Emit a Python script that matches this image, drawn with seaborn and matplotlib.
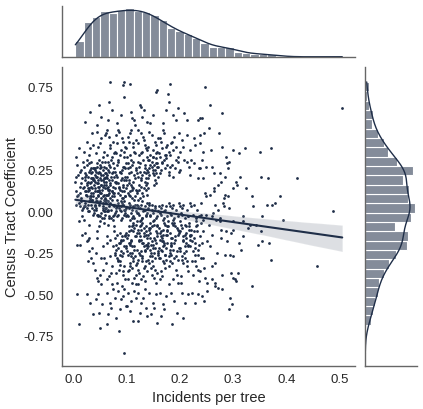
import matplotlib
matplotlib.use("Agg")
import matplotlib.pyplot as plt
import pandas as pd
import seaborn as sns

# tract points, grouped by incidents-per-tree band
# each pair: (incidents per tree x 1000, census tract coefficient x 100)
band_00 = [
    (4, 18), (6, 12), (9, 22), (12, 15), (15, 8), (17, 20), (5, 4), (8, 9), (11, 5), (14, 25),
    (18, 14), (7, 28), (10, -6), (13, 3), (16, -14), (19, 2), (6, 33), (9, 10), (12, -20), (15, 17),
    (11, -68), (8, -50), (14, 6), (17, -3), (5, 21), (10, 38), (13, 11), (16, 1), (18, 30), (7, -20),
    (12, 24),
]
band_02 = [
    (21, 15), (24, 22), (27, 18), (31, 9), (33, 26), (36, 14), (38, 20), (22, 12), (25, 28), (29, 6),
    (31, 17), (34, 23), (37, 11), (23, 19), (26, 31), (29, 13), (32, 8), (35, 24), (39, 16), (20, 27),
    (24, 10), (28, 21), (30, 29), (33, 15), (36, 7), (39, 19), (22, 23), (28, 12), (34, 30), (37, 19),
    (25, 16), (31, 25), (21, 36), (26, 42), (32, 38), (35, 47), (29, 34), (38, 40), (23, 54), (33, 11),
    (36, 2), (24, 12), (27, 4), (30, 0), (39, -1), (22, 5), (25, 2), (28, 0), (31, 8), (34, -28),
    (37, -2), (20, 3), (23, -13), (26, -18), (29, -8), (32, 6), (35, -22), (38, -31), (21, -5), (24, 10),
    (27, -30), (30, -16), (33, 4), (36, 7), (39, 1), (25, -50), (31, -55), (37, -62), (28, -17), (34, 9),
    (22, 3), (26, 9), (30, 14), (35, 20), (38, 26), (32, 60), (29, -24),
    (23, 21), (27, 14), (30, 24), (34, 18), (37, 9), (26, 17), (33, 20), (39, 26),
]
band_04 = [
    (41, 14), (44, 21), (47, 17), (50, 26), (53, 11), (56, 19), (59, 23), (42, 8), (45, 29), (48, 15),
    (51, 20), (54, 13), (57, 27), (40, 18), (43, 24), (46, 10), (49, 31), (52, 16), (55, 22), (58, 7),
    (41, 25), (44, 12), (47, 19), (50, 28), (53, 16), (56, 9), (59, 14), (42, 21), (45, 17), (48, 24),
    (51, 11), (54, 30), (57, 18), (43, 6), (46, 23), (49, 13), (52, 27), (55, 15), (58, 20), (40, 12),
    (42, 35), (47, 39), (52, 44), (57, 36), (44, 48), (50, 41), (55, 33), (59, 46), (45, 52), (53, 57),
    (48, 64), (43, 2), (46, -3), (49, 4), (52, -1), (55, 1), (58, -4), (41, 3), (44, -2), (57, 0),
    (50, 6), (41, 3), (44, -16), (47, 9), (50, -3), (53, -28), (56, 2), (59, 7), (42, -25), (45, -12),
    (48, 5), (51, -38), (54, -4), (57, 10), (40, -35), (43, 1), (46, -42), (49, -9), (52, 8), (55, -35),
    (58, -7), (41, 4), (47, 12), (53, -44), (56, -21), (59, 0), (44, -40), (50, -6), (46, -50), (54, -56),
    (49, -61), (58, -28), (42, -53), (51, -70), (45, 6), (56, 5), (40, 26), (53, 22), (59, 30), (47, -2),
    (55, 3),
    (41, 22), (44, 27), (48, 12), (52, 19), (55, 25), (58, 16), (46, 15), (51, 23),
]
band_06 = [
    (61, 16), (64, 22), (67, 13), (70, 27), (73, 19), (76, 9), (79, 24), (62, 18), (65, 30), (68, 11),
    (71, 21), (74, 15), (77, 26), (60, 8), (63, 20), (66, 25), (69, 17), (72, 12), (75, 29), (78, 14),
    (61, 23), (64, 10), (67, 28), (70, 16), (73, 7), (76, 21), (79, 18), (62, 26), (65, 13), (68, 19),
    (71, 31), (74, 24), (77, 11), (60, 20), (66, 15), (72, 23),
    (63, 34), (69, 38), (75, 42), (61, 47), (78, 36), (67, 45), (73, 33), (64, 49), (70, 40), (76, 35),
    (70, 78), (67, 66), (72, 61), (65, 55),
    (62, 2), (68, -3), (74, 4), (79, -1), (63, 0), (71, -4), (77, 3), (66, 1), (60, -2), (75, -5), (69, 5),
    (61, 7), (64, -19), (67, 3), (70, -27), (73, 9), (76, -2), (79, -16), (62, -31), (65, 6), (68, -4),
    (71, -37), (74, 11), (77, -9), (60, 2), (63, -41), (66, 0), (69, 8), (72, -33), (75, -3), (78, -26),
    (61, 5), (64, -15), (67, 13), (70, -17), (73, -44), (76, 4), (79, -25), (62, 10), (65, -8), (68, -39),
    (71, 1), (74, -21), (77, -12), (60, 6), (72, 12),
    (63, -49), (69, -55), (75, -47), (66, -62), (78, -52), (71, -58), (64, -68),
    (62, 21), (65, 10), (68, 24), (63, 14),
]
band_08 = [
    (81, 17), (84, 11), (87, 24), (90, 19), (93, 8), (96, 27), (99, 14), (82, 21), (85, 30), (88, 13),
    (91, 25), (94, 16), (97, 9), (80, 22), (83, 28), (86, 15), (89, 6), (92, 20), (95, 12), (98, 26),
    (81, 18), (84, 31), (87, 10), (90, 23), (93, 15), (96, 19), (99, 29), (82, 7), (85, 17), (88, 24),
    (91, 12), (94, 27), (97, 21), (86, 14),
    (80, 35), (83, 41), (86, 48), (89, 37), (92, 44), (95, 33), (98, 39), (81, 46), (87, 34), (93, 42),
    (96, 36), (84, 49),
    (95, 78), (94, 76), (95, 69), (89, 58), (83, 53),
    (82, 3), (85, -2), (88, 1), (91, -4), (94, 4), (97, -1), (80, 0), (83, -3), (86, 2), (89, -5),
    (92, 5), (95, -2), (98, 1), (90, 3),
    (81, 2), (84, 5), (87, -26), (90, -17), (93, 4), (96, -33), (99, -21), (82, -14), (85, -29), (88, -19),
    (91, 8), (94, -38), (97, -15), (80, -23), (83, 3), (86, -35), (89, -18), (92, -27), (95, 6), (98, -41),
    (81, -20), (84, -30), (87, -13), (90, -24), (93, -36), (96, 1), (99, -3), (82, -43), (85, -22), (88, -32),
    (91, -15), (94, -25), (97, 9), (80, -37), (83, -28), (86, -19), (89, 0), (92, -45), (95, -21), (98, -14),
    (88, -30), (93, -17),
    (84, -48), (90, -53), (96, -47), (87, -59), (81, -64), (93, -51), (99, -57), (86, -72), (96, -85),
]
band_10 = [
    (101, 16), (104, 23), (107, 9), (110, 28), (113, 14), (116, 20), (119, 11), (102, 26), (105, 17), (108, 31),
    (111, 8), (114, 22), (117, 13), (100, 19), (103, 29), (106, 12), (109, 24), (112, 18), (115, 7), (118, 25),
    (101, 21), (104, 10), (107, 27), (110, 15), (113, 30), (116, 9), (119, 23), (105, 19), (111, 13), (117, 26),
    (102, 11), (108, 16),
    (100, 38), (103, 45), (106, 34), (109, 49), (112, 41), (115, 36), (118, 43), (101, 33), (107, 47), (113, 39),
    (116, 35), (104, 42),
    (111, 56), (114, 55), (107, 77), (109, 60), (116, 52),
    (100, 2), (103, -3), (106, 4), (109, -1), (112, 3), (115, -4), (118, 0), (101, -2), (104, 5), (107, -5),
    (110, 1), (113, -3), (116, 4), (119, -1), (105, 2), (111, -4),
    (101, -16), (104, -9), (107, -31), (110, -21), (113, -7), (116, -27), (119, -13), (102, -36), (105, -19), (108, -11),
    (111, -25), (114, -40), (117, -8), (100, -22), (103, -14), (106, -33), (109, -18), (112, -28), (115, -10), (118, -38),
    (101, -24), (104, -12), (107, -20), (110, -43), (113, -30), (116, -15), (119, -6), (102, -26), (105, -35), (108, -17),
    (111, -9), (114, -23), (117, -32), (100, -13), (103, -41), (106, -19), (109, -27), (112, -8), (115, -21), (118, -15),
    (110, -34), (106, -25), (113, -12), (117, -44),
    (103, -49), (109, -54), (115, -48), (106, -60), (112, -66), (118, -52), (101, -57),
]
band_12 = [
    (120, 12), (123, 27), (125, 8), (128, 19), (131, 31), (133, 14), (136, 23), (139, 10), (121, 21), (124, 16),
    (126, 29), (129, 6), (132, 24), (134, 18), (137, 13), (122, 30), (127, 20), (130, 11), (135, 26), (138, 17),
    (121, 7), (125, 24), (128, 15), (131, 9), (134, 28), (137, 20), (139, 25), (123, 13), (129, 22), (136, 16),
    (121, 41), (124, 34), (127, 47), (130, 36), (133, 43), (136, 38), (139, 33), (122, 49), (128, 35), (131, 45),
    (135, 40), (138, 37),
    (126, 64), (127, 63), (133, 61), (139, 54), (130, 57),
    (121, 3), (124, -2), (127, 4), (130, -4), (133, 1), (136, -3), (139, 5), (122, -1), (125, 2), (128, -5),
    (131, 0), (134, 3), (137, -2), (120, 4), (129, -4), (135, 1), (138, -1),
    (121, -11), (124, -25), (127, -8), (130, -19), (133, -34), (136, -14), (139, -22), (122, -29), (125, -6), (128, -17),
    (131, -39), (134, -23), (137, -12), (120, -31), (123, -18), (126, -9), (129, -27), (132, -15), (135, -42), (138, -20),
    (121, -35), (124, -13), (127, -24), (130, -7), (133, -21), (136, -30), (139, -16), (122, -44), (125, -26), (128, -11),
    (131, -19), (134, -33), (137, -9), (120, -23), (123, -37), (126, -15), (129, -28), (132, -10), (135, -24), (138, -36),
    (124, -17), (130, -30), (136, -20), (127, -41), (133, -13),
    (122, -49), (128, -55), (134, -47), (125, -61), (131, -52), (137, -58), (121, -66), (139, -63),
]
band_14 = [
    (140, 24), (142, 31), (145, -10), (147, 27), (150, 33), (152, 22), (155, 29), (158, -8), (141, 20), (143, 26),
    (146, -20), (148, 30), (151, 16), (153, 25), (156, 32), (159, 21), (140, 14), (144, 28), (149, 23), (154, 19),
    (157, 27), (141, 31), (145, -16), (150, 25), (155, 17), (158, 29), (143, 22), (147, -27), (152, 28), (156, 23),
    (141, 39), (144, 34), (147, 46), (150, 37), (153, 42), (156, 35), (159, 44), (143, 48), (149, 33), (155, 40),
    (158, 36),
    (157, 73), (156, 72), (150, 58), (145, 53),
    (141, 2), (144, -3), (147, 4), (150, -1), (153, 3), (156, -4), (159, 0), (142, 5), (145, -2), (148, 1),
    (151, -5), (154, 2), (157, -3), (143, 4),
    (141, -14), (144, -27), (147, -9), (150, -20), (153, -35), (156, -12), (159, -24), (142, -31), (145, -7), (148, -18),
    (151, -40), (154, -22), (157, -15), (140, -29), (143, -11), (146, -25), (149, -33), (152, -8), (155, -19), (158, -37),
    (141, -21), (144, -13), (147, -30), (150, -6), (153, -17), (156, -43), (159, -26), (142, -10), (145, -23), (148, -38),
    (151, -16), (154, -28), (157, -9), (140, -19), (146, -34), (152, -25), (158, -13), (149, -22),
    (143, -49), (149, -55), (155, -50), (146, -62), (152, -58), (158, -67),
]
band_16 = [
    (160, 27), (162, 33), (165, -12), (167, 30), (169, -18), (172, 26), (174, 32), (177, -9), (179, 24), (161, -22),
    (163, 23), (166, 29), (168, -14), (171, 31), (173, -26), (176, 28), (178, -6), (164, 25), (170, -19), (175, 34),
    (163, -28), (177, -11),
    (161, 35), (164, 42), (167, 38), (170, 47), (173, 34), (176, 40), (179, 36), (162, 44), (168, 49), (174, 39),
    (178, 71), (179, 66), (175, 61), (168, 53),
    (161, 3), (164, -2), (167, 4), (170, -4), (173, 1), (176, -3), (179, 5), (162, -1), (165, 2), (168, -5),
    (171, 0), (174, 3),
    (161, -10), (164, -23), (167, -16), (170, -31), (173, -8), (176, -19), (179, -27), (162, -13), (165, -36), (168, -21),
    (171, -7), (174, -29), (177, -14), (160, -25), (163, -41), (166, -18), (169, -11), (172, -34), (175, -22), (178, -9),
    (161, -28), (164, -15), (167, -39), (170, -20), (173, -26), (176, -12), (179, -44), (163, -17), (169, -30), (175, -14),
    (166, -24),
    (162, -49), (168, -56), (174, -51), (165, -63), (171, -59),
]
band_18 = [
    (180, 22), (183, -16), (185, 28), (188, -23), (190, -7), (193, 31), (196, -29), (199, 24), (181, 27), (184, -21),
    (187, 21), (191, 26), (194, -10), (197, 30), (182, -25), (198, -13),
    (181, 34), (184, 41), (187, 37), (190, 45), (193, 39), (196, 33), (199, 47), (186, 42),
    (182, 77), (197, 62), (193, 55), (187, 58),
    (181, 3), (184, -2), (187, 4), (190, -4), (193, 1), (196, -3), (199, 5), (182, -1), (185, 2), (188, -5),
    (181, -13), (184, -26), (187, -8), (190, -19), (193, -35), (196, -11), (199, -22), (182, -30), (185, -16), (188, -41),
    (191, -9), (194, -24), (197, -14), (180, -33), (183, -20), (186, -7), (189, -28), (192, -17), (195, -38), (198, -12),
    (181, -23), (186, -31), (191, -15), (196, -43), (184, -19), (193, -27),
    (183, -49), (189, -54), (195, -61), (186, -68),
]
band_20 = [
    (200, -6), (203, -8), (206, -17), (209, -14), (212, -24), (214, 30), (217, -9), (219, 22), (201, 25), (205, -29),
    (208, 31), (211, -13), (215, -20), (218, 27),
    (201, 36), (204, 43), (207, 39), (210, -21), (213, 46), (216, -3), (219, -15),
    (214, 55), (208, 59),
    (201, 3), (204, -2), (207, 4), (210, -4), (213, 1), (216, -3), (219, 5), (202, -1), (205, 2),
    (201, -12), (204, -27), (207, -18), (210, -8), (213, -33), (216, -21), (219, -14), (202, -39), (205, -10), (208, -25),
    (211, -16), (214, -30), (217, -7), (200, -22), (203, -43), (206, -15), (209, -28), (212, -19), (215, -36), (218, -11),
    (201, -24), (206, -31), (211, -9),
    (204, -49), (210, -55), (216, -50), (207, -64),
]
band_22 = [
    (220, -21), (223, -18), (226, 29), (228, -30), (231, -6), (234, -23), (237, 26), (239, -7), (222, 31), (229, -26),
    (235, 20),
    (220, 37), (226, 44), (232, -12), (238, 46), (229, 40),
    (234, 55), (238, 56),
    (221, 3), (224, -2), (227, 4), (230, -4), (233, 1), (236, -3), (239, 5),
    (221, -11), (224, -24), (227, -16), (230, -33), (233, -8), (236, -20), (239, -28), (222, -14), (225, -38), (228, -19),
    (231, -9), (234, -26), (237, -42), (220, -17), (223, -30), (226, -12), (229, -22), (235, -35), (238, -15),
    (223, -49), (229, -55), (235, -50),
]
band_tail = [
    (247, 75), (257, 64), (280, 59), (241, 56), (254, 50), (246, 47), (274, 47), (238, 41), (244, 36), (258, 37),
    (279, 39), (300, 37), (323, 38), (312, 35), (286, 33), (288, 29), (292, 30), (291, 26), (241, 31), (250, 27),
    (260, 27), (264, 23), (276, 23), (285, 21), (314, 21), (352, 21), (366, 20), (244, 20), (238, 26), (277, 18),
    (272, 16), (265, 14), (306, 18), (307, 16), (300, 14), (325, 14), (247, 11), (250, 9), (257, 10), (264, 12),
    (285, 10), (290, 9), (283, 8), (335, 9), (338, 3), (363, 4), (374, 4), (388, 9), (379, 5), (266, 4),
    (282, 5), (283, 3), (272, 1), (263, -1), (250, -2), (260, -3), (276, -4), (244, -5), (240, -2), (292, 2),
    (318, -3), (354, -3), (300, -6), (319, -6), (331, -8), (343, -8), (254, -8), (268, -5), (276, -6), (244, -12),
    (261, -14), (277, -11), (287, -12), (297, -13), (300, -11), (319, -15), (329, -10), (352, -12), (252, -18), (241, -19),
    (277, -16), (288, -18), (312, -19), (347, -20), (354, -18), (368, -19), (256, -21), (269, -25), (285, -26), (294, -26),
    (300, -27), (315, -23), (371, -29), (244, -28), (266, -31), (260, -33), (246, -34), (280, -38), (296, -37), (310, -37),
    (304, -41), (300, -40), (305, -42), (238, -36), (247, -40), (260, -41), (266, -43), (252, -43), (272, -46), (280, -47),
    (267, -45), (336, -45), (252, -48), (241, -51), (246, -54), (294, -52), (299, -56), (293, -59), (327, -63),
    (505, 62), (488, 0), (458, -33), (420, 20), (371, 38), (350, 36), (393, -5),
]

x_ticks = [0.0, 0.1, 0.2, 0.3, 0.4, 0.5]
y_ticks = [-0.75, -0.5, -0.25, 0.0, 0.25, 0.5, 0.75]
x_label = "Incidents per tree"
y_label = "Census Tract Coefficient"

navy = "#1f2e48"

points = (band_00 + band_02 + band_04 + band_06 + band_08 + band_10 + band_12
          + band_14 + band_16 + band_18 + band_20 + band_22 + band_tail)
df = pd.DataFrame({
    "incidents": [p[0] / 1000 for p in points],
    "coef": [p[1] / 100 for p in points],
})

sns.set_style("white")
plt.rcParams["font.family"] = ["Liberation Sans", "DejaVu Sans"]
plt.rcParams["axes.unicode_minus"] = False

g = sns.JointGrid(data=df, x="incidents", y="coef", height=4.1, ratio=5, space=0.1)
g.figure.set_size_inches(4.23, 4.10)
g.figure.set_dpi(100)

sns.regplot(data=df, x="incidents", y="coef", ax=g.ax_joint, color=navy,
            scatter_kws={"s": 4, "linewidths": 0, "alpha": 1},
            line_kws={"linewidth": 1.5}, seed=0)
sns.histplot(data=df, x="incidents", ax=g.ax_marg_x, bins=32, kde=True, color=navy,
             alpha=0.55, edgecolor="white", linewidth=0.8, line_kws={"linewidth": 1})
sns.histplot(data=df, y="coef", ax=g.ax_marg_y, bins=29, kde=True, color=navy,
             alpha=0.55, edgecolor="white", linewidth=0.8, line_kws={"linewidth": 1})

g.ax_joint.set_position([0.1466, 0.1049, 0.6927, 0.7293])
g.ax_marg_x.set_position([0.1466, 0.8585, 0.6927, 0.1244])
g.ax_marg_y.set_position([0.8629, 0.1049, 0.1229, 0.7293])

for ax in (g.ax_joint, g.ax_marg_x, g.ax_marg_y):
    ax.spines["top"].set_visible(False)
    ax.spines["right"].set_visible(False)
    for side in ("left", "bottom"):
        ax.spines[side].set_visible(True)
        ax.spines[side].set_color("0.4")
        ax.spines[side].set_linewidth(1)

ax = g.ax_joint
ax.set_xlim(-0.021, 0.529)
ax.set_ylim(-0.931, 0.870)
ax.set_xticks(x_ticks)
ax.set_xticklabels([f"{t:.1f}" for t in x_ticks])
ax.set_yticks(y_ticks)
ax.set_yticklabels([f"{t:.2f}" for t in y_ticks])
ax.tick_params(axis="x", length=0, pad=5, labelsize=9.5, labelcolor="0.15")
ax.tick_params(axis="y", length=0, pad=6, labelsize=9.5, labelcolor="0.15")
ax.set_xlabel(x_label, fontsize=10.5, color="0.15", labelpad=4)
ax.set_ylabel(y_label, fontsize=10.5, color="0.15", labelpad=3)

for m in (g.ax_marg_x, g.ax_marg_y):
    m.set_xlabel("")
    m.set_ylabel("")
    m.tick_params(labelleft=False, labelbottom=False, length=0)

g.figure.savefig("out.png", dpi=100)
